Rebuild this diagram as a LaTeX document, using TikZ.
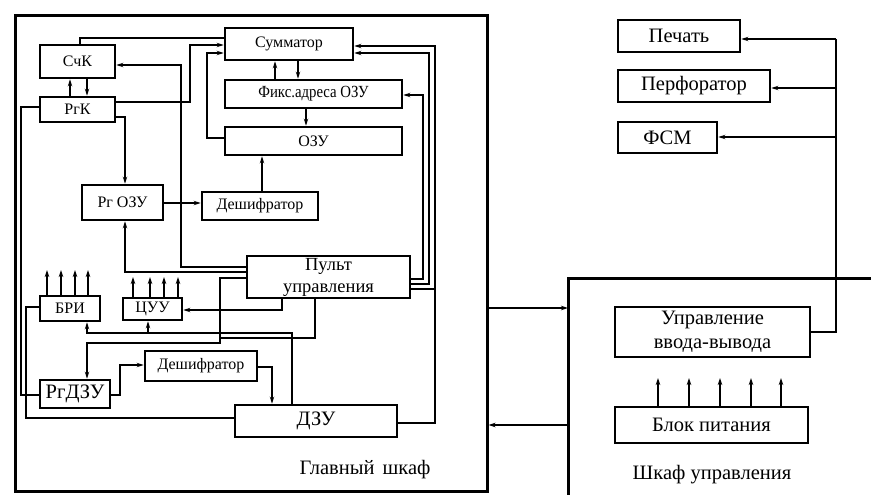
\documentclass[tikz,border=0pt]{standalone}
\usepackage{fontspec}
\usepackage{graphicx}
\setmainfont{Liberation Serif}
\usetikzlibrary{arrows.meta}
\begin{document}
\begin{tikzpicture}[x=1pt,y=-1pt,
  box/.style={draw, line width=2.8pt, inner sep=0pt, align=center},
  sm/.style={font=\fontsize{16}{16}\selectfont},
  lg/.style={font=\fontsize{20.5}{23}\selectfont},
  wire/.style={line width=1.5pt},
  arr/.style={wire, -{Stealth[length=7pt,width=4.5pt]}},
  cab/.style={line width=3pt}
]
\fill[white] (0,0) rectangle (871,495);
\useasboundingbox (0,0) rectangle (871,495);

% cabinets
\node[draw, cab, minimum width=472, minimum height=475, inner sep=0pt] (main) at (251,253.5) {};
\coordinate (shk) at (568,278);
\coordinate (shkR) at (871,278);
\coordinate (shkB) at (568,495);
\draw[cab] (shkR) -- (shk) -- (shkB);

% boxes in main cabinet
\node[box,sm,minimum width=75,minimum height=33] (sck) at (77.5,61.5) {СчК};
\node[box,sm,minimum width=75,minimum height=25] (rgk) at (77.5,109.5) {РгК};
\node[box,sm,minimum width=128,minimum height=32] (sum) at (289,44) {Сумматор};
\node[box,font=\fontsize{17}{17}\selectfont,minimum width=177,minimum height=28] (fix) at (313.5,94) {\scalebox{0.87}[1]{Фикс.адреса ОЗУ}};
\node[box,sm,minimum width=177,minimum height=28] (ozu) at (313.5,141) {ОЗУ};
\node[box,sm,minimum width=81,minimum height=35] (rgozu) at (122.5,202.5) {Рг ОЗУ};
\node[box,sm,minimum width=116,minimum height=28] (dec1) at (260,206) {Дешифратор};
\node[box,font=\fontsize{18.5}{22}\selectfont,minimum width=163,minimum height=42] (pult) at (328.5,277) {Пульт\\управления};
\node[box,sm,minimum width=60,minimum height=25] (bri) at (70,308.5) {БРИ};
\node[box,sm,minimum width=59,minimum height=22] (cuu) at (152.5,309) {ЦУУ};
\node[box,sm,minimum width=112,minimum height=30] (dec2) at (201,366) {Дешифратор};
\node[box,lg,minimum width=70,minimum height=28] (rgdzu) at (75,394) {РгДЗУ};
\node[box,lg,minimum width=162,minimum height=32] (dzu) at (316,421) {ДЗУ};

% boxes right
\node[box,lg,minimum width=122,minimum height=32] (pech) at (679,36) {Печать};
\node[box,lg,minimum width=152,minimum height=32] (perf) at (694,86) {Перфоратор};
\node[box,lg,minimum width=99,minimum height=31] (fsm) at (667.5,137.5) {ФСМ};
\node[box,font=\fontsize{20.5}{24}\selectfont,minimum width=195,minimum height=50] (uvv) at (712.5,332) {Управление\\ввода-вывода};
\node[box,lg,minimum width=193,minimum height=36] (bp) at (711.5,425) {Блок питания};

\node[lg] (gl) at (365,470) {Главный\hspace{8pt}шкаф};
\node[lg] (shu) at (712,475) {Шкаф управления};

% connectors in main cabinet
\draw[arr] (rgk.north -| 70,0) -- (sck.south -| 70,0);
\draw[arr] (sck.south -| 87,0) -- (rgk.north -| 87,0);
\draw[arr] (fix.north -| 275,0) -- (sum.south -| 275,0);
\draw[arr] (sum.south -| 298,0) -- (fix.north -| 298,0);
\draw[arr] (fix.south -| 306,0) -- (ozu.north -| 306,0);
\draw[arr] (dec1.north -| 262,0) -- (ozu.south -| 262,0);
\draw[arr] (rgozu.east |- 0,203) -- (dec1.west |- 0,203);
\draw[arr] (rgk.east |- 0,117) -| (rgozu.north -| 125,0);
\draw[arr] (pult.west |- 0,272) -| (rgozu.south -| 125,0);
\draw[arr] (pult.west |- 0,267) -| (181,65) -- (sck.east |- 0,65);
\draw[wire] (sck.north -| 80,0) |- (sum.west |- 0,38);
\draw[arr] (rgk.east |- 0,102) -| (190,45) -- (sum.west |- 0,45);
\draw[arr] (ozu.west |- 0,138) -| (207,53) -- (sum.west |- 0,53);
\draw[arr] (pult.east |- 0,279) -| (423,95) -- (fix.east |- 0,95);
\draw[arr] (pult.east |- 0,284) -| (429,53) -- (sum.east |- 0,53);
\draw[arr] (dzu.east |- 0,423) -| (435,46) -- (sum.east |- 0,46);
\draw[wire] (pult.east |- 0,289) -- (435,289);
\draw[arr] (pult.south -| 282,0) |- (cuu.east |- 0,310);
\draw[arr] (dzu.north -| 292,0) |- (87,333) -- (bri.south -| 87,0);
\draw[arr] (148,333) -- (cuu.south -| 148,0);
\draw[arr] (pult.west |- 0,278) -| (220,343) -| (rgdzu.north -| 87,0);
\draw[wire] (pult.south -| 315,0) |- (220,338);
\draw[arr] (rgdzu.east |- 0,395) -- (120,395) |- (dec2.west |- 0,365);
\draw[arr] (dec2.east |- 0,367) -| (dzu.north -| 272,0);
\draw[wire] (rgk.west |- 0,107) -| (21,395) -- (rgdzu.west |- 0,395);
\draw[wire] (bri.west |- 0,307) -| (26,418) -- (dzu.west |- 0,418);
\foreach \x in {47,61,75,88} \draw[arr] (bri.north -| \x,0) -- (\x,270);
\foreach \x in {133,150,164,178} \draw[arr] (cuu.north -| \x,0) -- (\x,277);

% right side
\coordinate (bus) at (836,39);
\draw[wire] (uvv.east |- 0,332) -| (bus);
\draw[arr] (bus) -- (pech.east |- 0,39);
\draw[arr] (bus |- 0,88) -- (perf.east |- 0,88);
\draw[arr] (bus |- 0,137) -- (fsm.east |- 0,137);
\foreach \x in {658,689,720,751,781} \draw[arr] (bp.north -| \x,0) -- (\x,378);

% between cabinets
\draw[arr] (main.east |- 0,308) -- (shk |- 0,308);
\draw[arr] (shk |- 0,425) -- (main.east |- 0,425);
\end{tikzpicture}
\end{document}
